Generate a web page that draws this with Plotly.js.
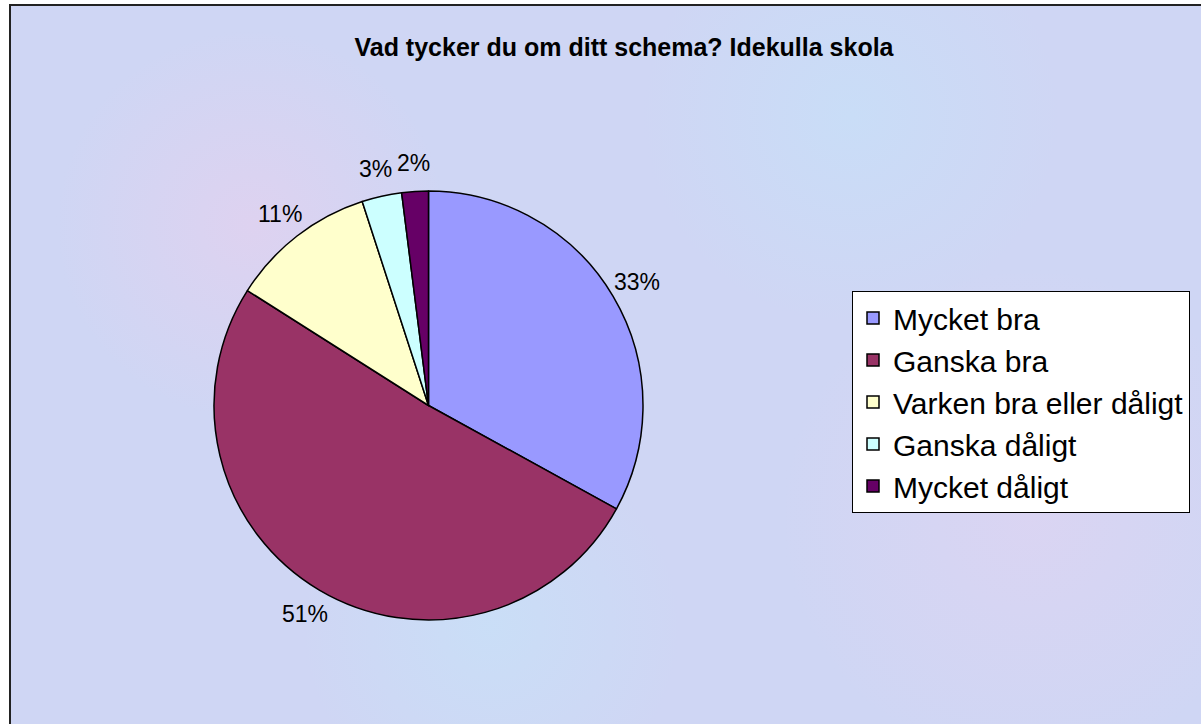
<!DOCTYPE html>
<html>
<head>
<meta charset="utf-8">
<script src="https://cdn.plot.ly/plotly-3.0.1.min.js"></script>
<style>
  html, body { margin: 0; padding: 0; background: #ffffff; overflow: hidden; }
  #bg {
    position: absolute; left: 9px; top: 4px; width: 1200px; height: 730px;
    border-left: 2px solid #222; border-top: 2px solid #222;
    background-color: #cfd6f4;
    background-image:
      radial-gradient(circle at 20% 30%, rgba(240,205,235,0.45) 0, rgba(240,205,235,0) 18%),
      radial-gradient(circle at 70% 15%, rgba(195,228,250,0.5) 0, rgba(195,228,250,0) 20%),
      radial-gradient(circle at 85% 70%, rgba(235,210,240,0.4) 0, rgba(235,210,240,0) 22%),
      radial-gradient(circle at 40% 85%, rgba(195,232,250,0.45) 0, rgba(195,232,250,0) 20%);
  }
  #chart { position: absolute; left: 0; top: 0; width: 1201px; height: 724px; }
</style>
</head>
<body>
<div id="bg"></div>
<div id="chart"></div>
<script>
const categories = ['Mycket bra', 'Ganska bra', 'Varken bra eller dåligt', 'Ganska dåligt', 'Mycket dåligt'];
const values = [33, 51, 11, 3, 2];
const colors = ['#9999FF', '#993366', '#FFFFCC', '#CCFFFF', '#660066'];
const titleText = 'Vad tycker du om ditt schema? Idekulla skola';

const W = 1201, H = 724;
const cx = 428.5, cy = 405.5, r = 214.5;
const labelDist = r + 28;
const FONT = 'Arial, Liberation Sans, sans-serif';

const trace = {
  type: 'pie',
  labels: categories,
  values: values,
  sort: false,
  direction: 'clockwise',
  rotation: 0,
  marker: { colors: colors, line: { color: '#000000', width: 1.5 } },
  textinfo: 'none',
  textposition: 'none',
  domain: { x: [(cx - r) / W, (cx + r) / W], y: [(H - cy - r) / H, (H - cy + r) / H] },
  hoverinfo: 'label+percent'
};

// percentage labels placed outside each slice, at the slice's mid-angle
const total = values.reduce((a, b) => a + b, 0);
let cum = 0;
const annotations = values.map(v => {
  const mid = (cum + v / 2) / total * 2 * Math.PI;
  cum += v;
  const px = cx + labelDist * Math.sin(mid);
  const py = cy - labelDist * Math.cos(mid);
  return {
    text: Math.round(v / total * 100) + '%',
    x: px / W, y: 1 - py / H, xref: 'paper', yref: 'paper',
    xanchor: 'center', yanchor: 'middle', showarrow: false,
    font: { family: FONT, size: 23, color: '#000000' }
  };
});

const layout = {
  width: W, height: H,
  margin: { l: 0, r: 0, t: 0, b: 0 },
  paper_bgcolor: 'rgba(0,0,0,0)',
  plot_bgcolor: 'rgba(0,0,0,0)',
  showlegend: true,
  annotations: annotations,
  title: {
    text: '<b>' + titleText + '</b>',
    font: { family: FONT, size: 25, color: '#000000' },
    x: 624 / W, xanchor: 'center', xref: 'paper',
    y: 1 - 47 / H, yanchor: 'middle', yref: 'paper'
  },
  legend: {
    x: 852 / W, xanchor: 'left',
    y: 1 - 291 / H, yanchor: 'top',
    bgcolor: '#ffffff', bordercolor: '#000000', borderwidth: 1,
    font: { family: FONT, size: 30, color: '#000000' },
    traceorder: 'normal'
  }
};

Plotly.newPlot('chart', [trace], layout, { displayModeBar: false, staticPlot: true });
</script>
</body>
</html>
